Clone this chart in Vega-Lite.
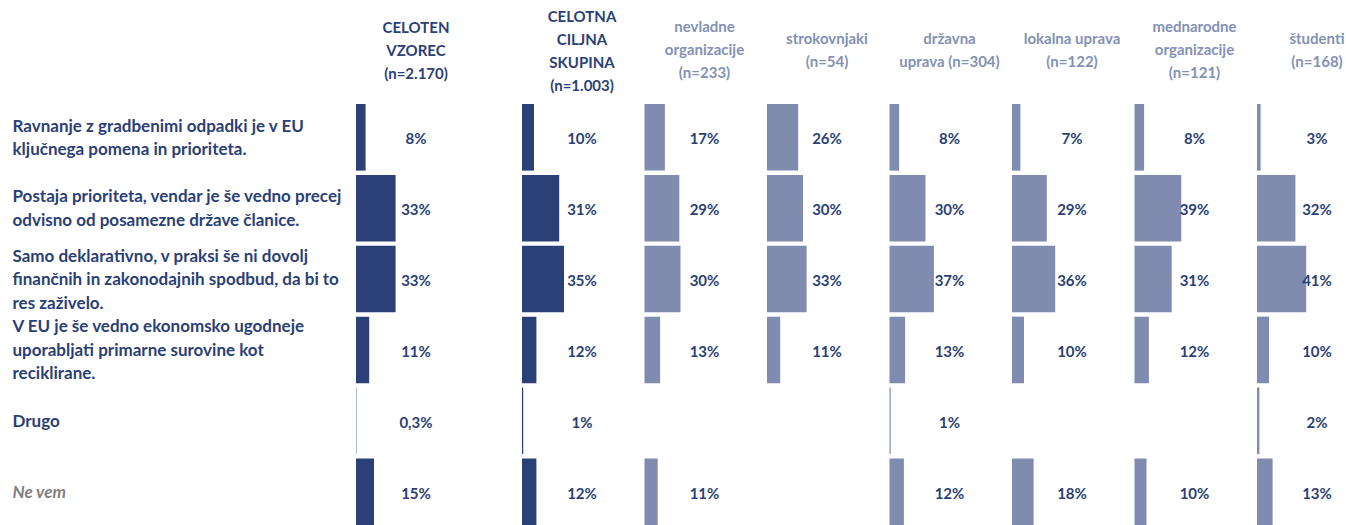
{
  "$schema": "https://vega.github.io/schema/vega-lite/v6.json",
  "padding": {"left": 12, "top": 10, "right": 0, "bottom": 0},
  "background": "white",
  "data": {"values": [
    {"g": "g1", "row": "Ravnanje z gradbenimi odpadki je v EU|ključnega pomena in prioriteta.", "v": 8, "t": "8%"},
    {"g": "g1", "row": "Postaja prioriteta, vendar je še vedno precej|odvisno od posamezne države članice.", "v": 33, "t": "33%"},
    {"g": "g1", "row": "Samo deklarativno, v praksi še ni dovolj|finančnih in zakonodajnih spodbud, da bi to|res zaživelo.", "v": 33, "t": "33%"},
    {"g": "g1", "row": "V EU je še vedno ekonomsko ugodneje|uporabljati primarne surovine kot|reciklirane.", "v": 11, "t": "11%"},
    {"g": "g1", "row": "Drugo", "v": 0.3, "t": "0,3%"},
    {"g": "g1", "row": "Ne vem", "v": 15, "t": "15%"},
    {"g": "g2", "row": "Ravnanje z gradbenimi odpadki je v EU|ključnega pomena in prioriteta.", "v": 10, "t": "10%"},
    {"g": "g2", "row": "Postaja prioriteta, vendar je še vedno precej|odvisno od posamezne države članice.", "v": 31, "t": "31%"},
    {"g": "g2", "row": "Samo deklarativno, v praksi še ni dovolj|finančnih in zakonodajnih spodbud, da bi to|res zaživelo.", "v": 35, "t": "35%"},
    {"g": "g2", "row": "V EU je še vedno ekonomsko ugodneje|uporabljati primarne surovine kot|reciklirane.", "v": 12, "t": "12%"},
    {"g": "g2", "row": "Drugo", "v": 1, "t": "1%"},
    {"g": "g2", "row": "Ne vem", "v": 12, "t": "12%"},
    {"g": "g3", "row": "Ravnanje z gradbenimi odpadki je v EU|ključnega pomena in prioriteta.", "v": 17, "t": "17%"},
    {"g": "g3", "row": "Postaja prioriteta, vendar je še vedno precej|odvisno od posamezne države članice.", "v": 29, "t": "29%"},
    {"g": "g3", "row": "Samo deklarativno, v praksi še ni dovolj|finančnih in zakonodajnih spodbud, da bi to|res zaživelo.", "v": 30, "t": "30%"},
    {"g": "g3", "row": "V EU je še vedno ekonomsko ugodneje|uporabljati primarne surovine kot|reciklirane.", "v": 13, "t": "13%"},
    {"g": "g3", "row": "Ne vem", "v": 11, "t": "11%"},
    {"g": "g4", "row": "Ravnanje z gradbenimi odpadki je v EU|ključnega pomena in prioriteta.", "v": 26, "t": "26%"},
    {"g": "g4", "row": "Postaja prioriteta, vendar je še vedno precej|odvisno od posamezne države članice.", "v": 30, "t": "30%"},
    {"g": "g4", "row": "Samo deklarativno, v praksi še ni dovolj|finančnih in zakonodajnih spodbud, da bi to|res zaživelo.", "v": 33, "t": "33%"},
    {"g": "g4", "row": "V EU je še vedno ekonomsko ugodneje|uporabljati primarne surovine kot|reciklirane.", "v": 11, "t": "11%"},
    {"g": "g5", "row": "Ravnanje z gradbenimi odpadki je v EU|ključnega pomena in prioriteta.", "v": 8, "t": "8%"},
    {"g": "g5", "row": "Postaja prioriteta, vendar je še vedno precej|odvisno od posamezne države članice.", "v": 30, "t": "30%"},
    {"g": "g5", "row": "Samo deklarativno, v praksi še ni dovolj|finančnih in zakonodajnih spodbud, da bi to|res zaživelo.", "v": 37, "t": "37%"},
    {"g": "g5", "row": "V EU je še vedno ekonomsko ugodneje|uporabljati primarne surovine kot|reciklirane.", "v": 13, "t": "13%"},
    {"g": "g5", "row": "Drugo", "v": 1, "t": "1%"},
    {"g": "g5", "row": "Ne vem", "v": 12, "t": "12%"},
    {"g": "g6", "row": "Ravnanje z gradbenimi odpadki je v EU|ključnega pomena in prioriteta.", "v": 7, "t": "7%"},
    {"g": "g6", "row": "Postaja prioriteta, vendar je še vedno precej|odvisno od posamezne države članice.", "v": 29, "t": "29%"},
    {"g": "g6", "row": "Samo deklarativno, v praksi še ni dovolj|finančnih in zakonodajnih spodbud, da bi to|res zaživelo.", "v": 36, "t": "36%"},
    {"g": "g6", "row": "V EU je še vedno ekonomsko ugodneje|uporabljati primarne surovine kot|reciklirane.", "v": 10, "t": "10%"},
    {"g": "g6", "row": "Ne vem", "v": 18, "t": "18%"},
    {"g": "g7", "row": "Ravnanje z gradbenimi odpadki je v EU|ključnega pomena in prioriteta.", "v": 8, "t": "8%"},
    {"g": "g7", "row": "Postaja prioriteta, vendar je še vedno precej|odvisno od posamezne države članice.", "v": 39, "t": "39%"},
    {"g": "g7", "row": "Samo deklarativno, v praksi še ni dovolj|finančnih in zakonodajnih spodbud, da bi to|res zaživelo.", "v": 31, "t": "31%"},
    {"g": "g7", "row": "V EU je še vedno ekonomsko ugodneje|uporabljati primarne surovine kot|reciklirane.", "v": 12, "t": "12%"},
    {"g": "g7", "row": "Ne vem", "v": 10, "t": "10%"},
    {"g": "g8", "row": "Ravnanje z gradbenimi odpadki je v EU|ključnega pomena in prioriteta.", "v": 3, "t": "3%"},
    {"g": "g8", "row": "Postaja prioriteta, vendar je še vedno precej|odvisno od posamezne države članice.", "v": 32, "t": "32%"},
    {"g": "g8", "row": "Samo deklarativno, v praksi še ni dovolj|finančnih in zakonodajnih spodbud, da bi to|res zaživelo.", "v": 41, "t": "41%"},
    {"g": "g8", "row": "V EU je še vedno ekonomsko ugodneje|uporabljati primarne surovine kot|reciklirane.", "v": 10, "t": "10%"},
    {"g": "g8", "row": "Drugo", "v": 2, "t": "2%"},
    {"g": "g8", "row": "Ne vem", "v": 13, "t": "13%"}
  ]},
  "config": {
    "view": {"stroke": null},
    "font": "Lato",
    "title": {"font": "Lato", "fontSize": 15, "fontWeight": "bold", "lineHeight": 23, "baseline": "middle", "anchor": "middle"},
    "text": {"font": "Lato", "fontSize": 15, "fontWeight": "bold", "color": "#2B3F77", "baseline": "middle", "align": "center", "dy": 2}
  },
  "bounds": "flush",
  "spacing": 46,
  "resolve": {"scale": {"y": "shared"}},
  "hconcat": [
    {
      "width": 120, "height": 421,
      "title": {"text": ["CELOTEN", "VZOREC", "(n=2.170)"], "color": "#2B3F77", "offset": 22},
      "transform": [{"filter": "datum.g == 'g1'"}],
      "encoding": {"y": {"field": "row", "type": "nominal", "sort": null, "scale": {"paddingInner": 0.06, "paddingOuter": 0},
        "axis": {"title": null, "labelExpr": "split(datum.label, '|')", "labelAlign": "left", "labelPadding": 344, "labelLimit": 0, "ticks": false, "domain": false, "labelFont": "Lato", "labelFontSize": 17, "labelFontWeight": "bold", "labelLineHeight": 23.5, "labelBaseline": "middle",
          "labelOffset": {"condition": [{"test": "length(split(datum.value, '|')) == 3", "value": -22.5}, {"test": "length(split(datum.value, '|')) == 2", "value": -10.75}], "value": 1},
          "labelColor": {"condition": {"test": "datum.value == 'Ne vem'", "value": "#7F7F7F"}, "value": "#2B3F77"},
          "labelFontStyle": {"condition": {"test": "datum.value == 'Ne vem'", "value": "italic"}, "value": "normal"}}}},
      "layer": [
        {"mark": {"type": "bar", "color": "#2B4077"}, "encoding": {"x": {"field": "v", "type": "quantitative", "scale": {"domain": [0, 100], "nice": false}, "axis": null}}},
        {"mark": {"type": "text"}, "encoding": {"x": {"datum": 50}, "text": {"field": "t"}}}
      ]
    },
    {
      "bounds": "flush",
      "spacing": 2.5,
      "resolve": {"scale": {"y": "shared"}},
      "hconcat": [
        {
          "width": 120, "height": 421,
          "title": {"text": ["CELOTNA", "CILJNA", "SKUPINA", "(n=1.003)"], "color": "#2B3F77", "offset": 10},
          "transform": [{"filter": "datum.g == 'g2'"}],
          "encoding": {"y": {"field": "row", "type": "nominal", "sort": null, "scale": {"paddingInner": 0.06, "paddingOuter": 0}, "axis": null}},
          "layer": [
            {"mark": {"type": "bar", "color": "#2B4077"}, "encoding": {"x": {"field": "v", "type": "quantitative", "scale": {"domain": [0, 100], "nice": false}, "axis": null}}},
            {"mark": {"type": "text"}, "encoding": {"x": {"datum": 50}, "text": {"field": "t"}}}
          ]
        },
        {
          "width": 120, "height": 421,
          "title": {"text": ["nevladne", "organizacije", "(n=233)"], "color": "#8391B6", "offset": 23},
          "transform": [{"filter": "datum.g == 'g3'"}],
          "encoding": {"y": {"field": "row", "type": "nominal", "sort": null, "scale": {"paddingInner": 0.06, "paddingOuter": 0}, "axis": null}},
          "layer": [
            {"mark": {"type": "bar", "color": "#7F8CB0"}, "encoding": {"x": {"field": "v", "type": "quantitative", "scale": {"domain": [0, 100], "nice": false}, "axis": null}}},
            {"mark": {"type": "text"}, "encoding": {"x": {"datum": 50}, "text": {"field": "t"}}}
          ]
        },
        {
          "width": 120, "height": 421,
          "title": {"text": ["strokovnjaki", "(n=54)"], "color": "#8391B6", "offset": 34},
          "transform": [{"filter": "datum.g == 'g4'"}],
          "encoding": {"y": {"field": "row", "type": "nominal", "sort": null, "scale": {"paddingInner": 0.06, "paddingOuter": 0}, "axis": null}},
          "layer": [
            {"mark": {"type": "bar", "color": "#7F8CB0"}, "encoding": {"x": {"field": "v", "type": "quantitative", "scale": {"domain": [0, 100], "nice": false}, "axis": null}}},
            {"mark": {"type": "text"}, "encoding": {"x": {"datum": 50}, "text": {"field": "t"}}}
          ]
        },
        {
          "width": 120, "height": 421,
          "title": {"text": ["državna", "uprava (n=304)"], "color": "#8391B6", "offset": 34},
          "transform": [{"filter": "datum.g == 'g5'"}],
          "encoding": {"y": {"field": "row", "type": "nominal", "sort": null, "scale": {"paddingInner": 0.06, "paddingOuter": 0}, "axis": null}},
          "layer": [
            {"mark": {"type": "bar", "color": "#7F8CB0"}, "encoding": {"x": {"field": "v", "type": "quantitative", "scale": {"domain": [0, 100], "nice": false}, "axis": null}}},
            {"mark": {"type": "text"}, "encoding": {"x": {"datum": 50}, "text": {"field": "t"}}}
          ]
        },
        {
          "width": 120, "height": 421,
          "title": {"text": ["lokalna uprava", "(n=122)"], "color": "#8391B6", "offset": 34},
          "transform": [{"filter": "datum.g == 'g6'"}],
          "encoding": {"y": {"field": "row", "type": "nominal", "sort": null, "scale": {"paddingInner": 0.06, "paddingOuter": 0}, "axis": null}},
          "layer": [
            {"mark": {"type": "bar", "color": "#7F8CB0"}, "encoding": {"x": {"field": "v", "type": "quantitative", "scale": {"domain": [0, 100], "nice": false}, "axis": null}}},
            {"mark": {"type": "text"}, "encoding": {"x": {"datum": 50}, "text": {"field": "t"}}}
          ]
        },
        {
          "width": 120, "height": 421,
          "title": {"text": ["mednarodne", "organizacije", "(n=121)"], "color": "#8391B6", "offset": 23},
          "transform": [{"filter": "datum.g == 'g7'"}],
          "encoding": {"y": {"field": "row", "type": "nominal", "sort": null, "scale": {"paddingInner": 0.06, "paddingOuter": 0}, "axis": null}},
          "layer": [
            {"mark": {"type": "bar", "color": "#7F8CB0"}, "encoding": {"x": {"field": "v", "type": "quantitative", "scale": {"domain": [0, 100], "nice": false}, "axis": null}}},
            {"mark": {"type": "text"}, "encoding": {"x": {"datum": 50}, "text": {"field": "t"}}}
          ]
        },
        {
          "width": 89, "height": 421,
          "title": {"text": ["študenti", "(n=168)"], "color": "#8391B6", "dx": 15.5, "offset": 34},
          "transform": [{"filter": "datum.g == 'g8'"}],
          "encoding": {"y": {"field": "row", "type": "nominal", "sort": null, "scale": {"paddingInner": 0.06, "paddingOuter": 0}, "axis": null}},
          "layer": [
            {"mark": {"type": "bar", "color": "#7F8CB0"}, "encoding": {"x": {"field": "v", "type": "quantitative", "scale": {"domain": [0, 74.17], "nice": false}, "axis": null}}},
            {"mark": {"type": "text"}, "encoding": {"x": {"datum": 50}, "text": {"field": "t"}}}
          ]
        }
      ]
    }
  ]
}
